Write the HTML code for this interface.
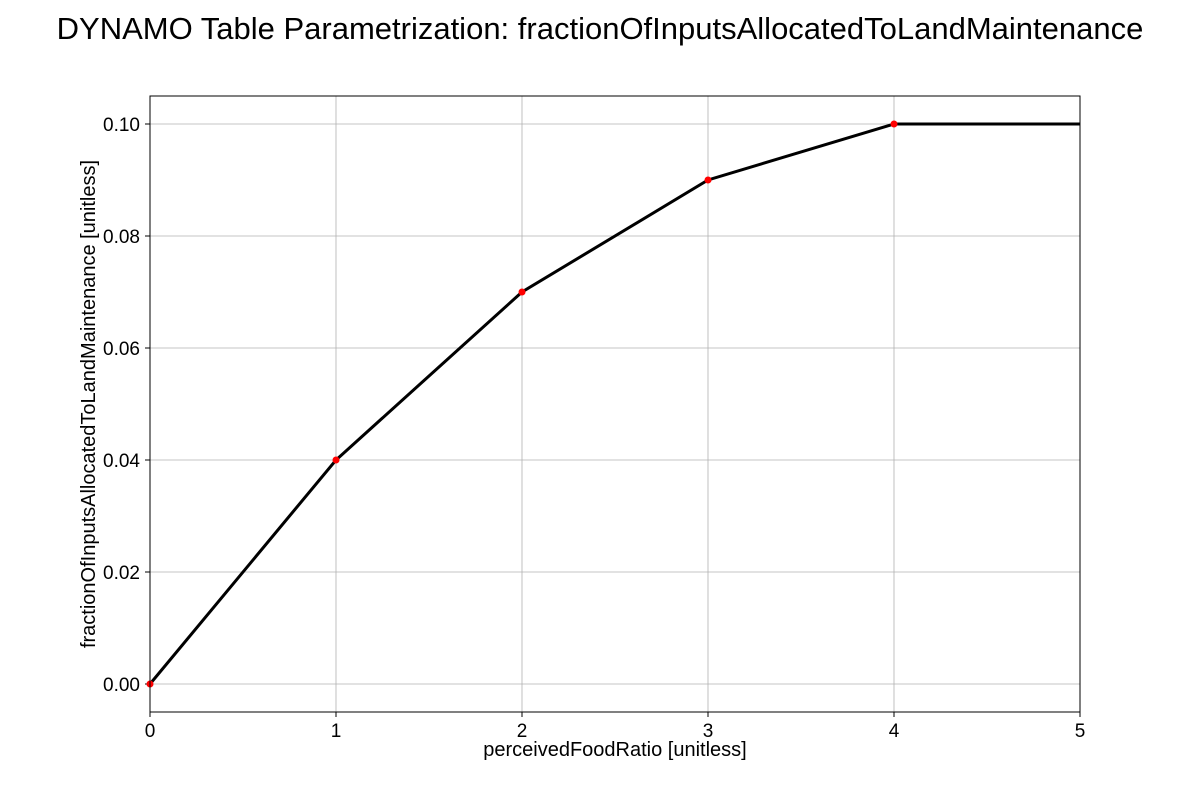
<!DOCTYPE html>
<html><head><meta charset="utf-8"><style>
body{margin:0;background:#fff;font-family:"Liberation Sans",sans-serif;}
</style></head><body>
<svg id="chart" width="1200" height="800" xmlns="http://www.w3.org/2000/svg">
<text x="600" y="39" text-anchor="middle" font-size="31" font-family="Liberation Sans, sans-serif">DYNAMO Table Parametrization: fractionOfInputsAllocatedToLandMaintenance</text>
<g id="grid"></g>
<g id="ticks"></g>
<g id="series"></g>
<rect x="150" y="96" width="930" height="616" fill="none" stroke="#000" stroke-width="1"/>
<text x="615" y="756" text-anchor="middle" font-size="20" font-family="Liberation Sans, sans-serif">perceivedFoodRatio [unitless]</text>
<text transform="translate(95,404) rotate(-90)" text-anchor="middle" font-size="20" font-family="Liberation Sans, sans-serif">fractionOfInputsAllocatedToLandMaintenance [unitless]</text>
</svg>
<script>
const xValues = [0, 1, 2, 3, 4, 5];
const yValues = [0, 0.04, 0.07, 0.09, 0.10, 0.10];
const markerX = [0, 1, 2, 3, 4];
const markerY = [0, 0.04, 0.07, 0.09, 0.10];
const xTicks = [0, 1, 2, 3, 4, 5];
const yTicks = [0, 0.02, 0.04, 0.06, 0.08, 0.10];
const yTickLabels = ["0.00", "0.02", "0.04", "0.06", "0.08", "0.10"];

const NS = "http://www.w3.org/2000/svg";
const L = 150, R = 1080, T = 96, B = 712;
const xMin = 0, xMax = 5, yMin = -0.005, yMax = 0.105;
const sx = v => L + (v - xMin) / (xMax - xMin) * (R - L);
const sy = v => B - (v - yMin) / (yMax - yMin) * (B - T);
function mk(tag, attrs, parent) {
  const e = document.createElementNS(NS, tag);
  for (const k in attrs) e.setAttribute(k, attrs[k]);
  parent.appendChild(e);
  return e;
}
const grid = document.getElementById('grid'), ticks = document.getElementById('ticks'), series = document.getElementById('series');
const font = "Liberation Sans, sans-serif";
xTicks.forEach(v => {
  const x = sx(v);
  const g = mk('line', {x1: x, x2: x, y1: T, y2: B, stroke: '#b0b0b0', 'stroke-width': 0.8}, grid);
  
  
  const t = mk('line', {x1: x, x2: x, y1: B, y2: B + 5, stroke: '#000'}, ticks);
  
  
  const lb = mk('text', {x: x, y: B + 25, 'text-anchor': 'middle', 'font-size': 19, 'font-family': font}, ticks);
  lb.textContent = v;
  
  
});
yTicks.forEach((v, i) => {
  const y = sy(v);
  const g = mk('line', {x1: L, x2: R, y1: y, y2: y, stroke: '#b0b0b0', 'stroke-width': 0.8}, grid);
  
  
  const t = mk('line', {x1: L - 5, x2: L, y1: y, y2: y, stroke: '#000'}, ticks);
  
  
  const lb = mk('text', {x: L - 10, y: y + 7, 'text-anchor': 'end', 'font-size': 19, 'font-family': font}, ticks);
  lb.textContent = yTickLabels[i];
  
  
});
const pts = xValues.map((v, i) => sx(v) + ',' + sy(yValues[i])).join(' ');
const line = mk('polyline', {points: pts, fill: 'none', stroke: '#000', 'stroke-width': 3}, series);


markerX.forEach((v, i) => {
  const c = mk('circle', {cx: sx(v), cy: sy(markerY[i]), r: 3.5, fill: '#ff0000'}, series);
  
  
});
</script>
</body></html>
